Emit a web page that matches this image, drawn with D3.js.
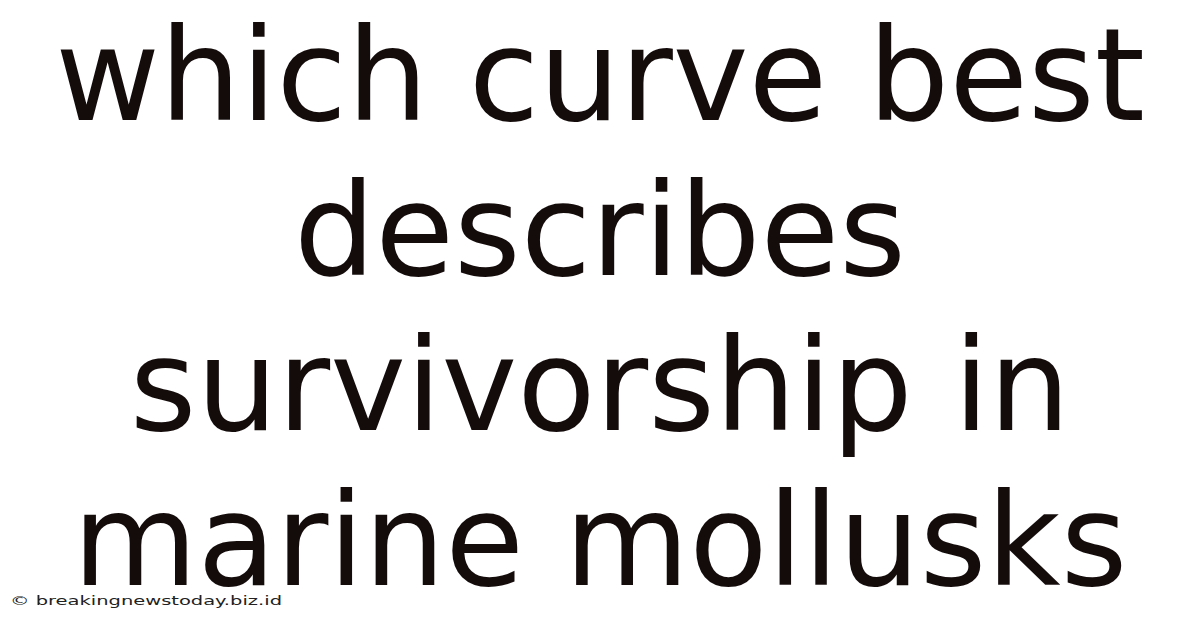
<!DOCTYPE html>
<html>
<head>
<meta charset="utf-8">
<script src="https://cdn.jsdelivr.net/npm/d3@7"></script>
<style>
  html, body { margin: 0; padding: 0; background: #fff; }
  svg { display: block; }
</style>
</head>
<body>
<svg id="card" width="1200" height="628"></svg>
<script>
// title lines, top to bottom
const titleLines = [
  'which curve best',
  'describes',
  'survivorship in',
  'marine mollusks',
];
const footerText = '\u00A9 breakingnewstoday.biz.id';

const width = 1200;
const height = 628;
const svg = d3.select('#card');

svg.append('rect')
  .attr('width', width)
  .attr('height', height)
  .attr('fill', '#ffffff');

// one band per line, baseline placed by the scale
const lineY = d3.scalePoint()
  .domain(d3.range(titleLines.length))
  .range([120, 585]);

svg.append('g')
  .attr('class', 'title')
  .selectAll('text')
  .data(titleLines)
  .join('text')
  .attr('x', width / 2)
  .attr('y', (d, i) => lineY(i))
  .attr('text-anchor', 'middle')
  .attr('font-family', '"DejaVu Sans", sans-serif')
  .attr('font-size', 128)
  .attr('fill', '#140b0b')
  .text(d => d);

// footer credit is stretched wide in the reference
svg.append('text')
  .attr('x', 10)
  .attr('y', 605)
  .attr('font-family', '"DejaVu Sans", sans-serif')
  .attr('font-size', 12.5)
  .attr('textLength', 272)
  .attr('lengthAdjust', 'spacingAndGlyphs')
  .attr('fill', '#222')
  .text(footerText);
</script>
</body>
</html>
